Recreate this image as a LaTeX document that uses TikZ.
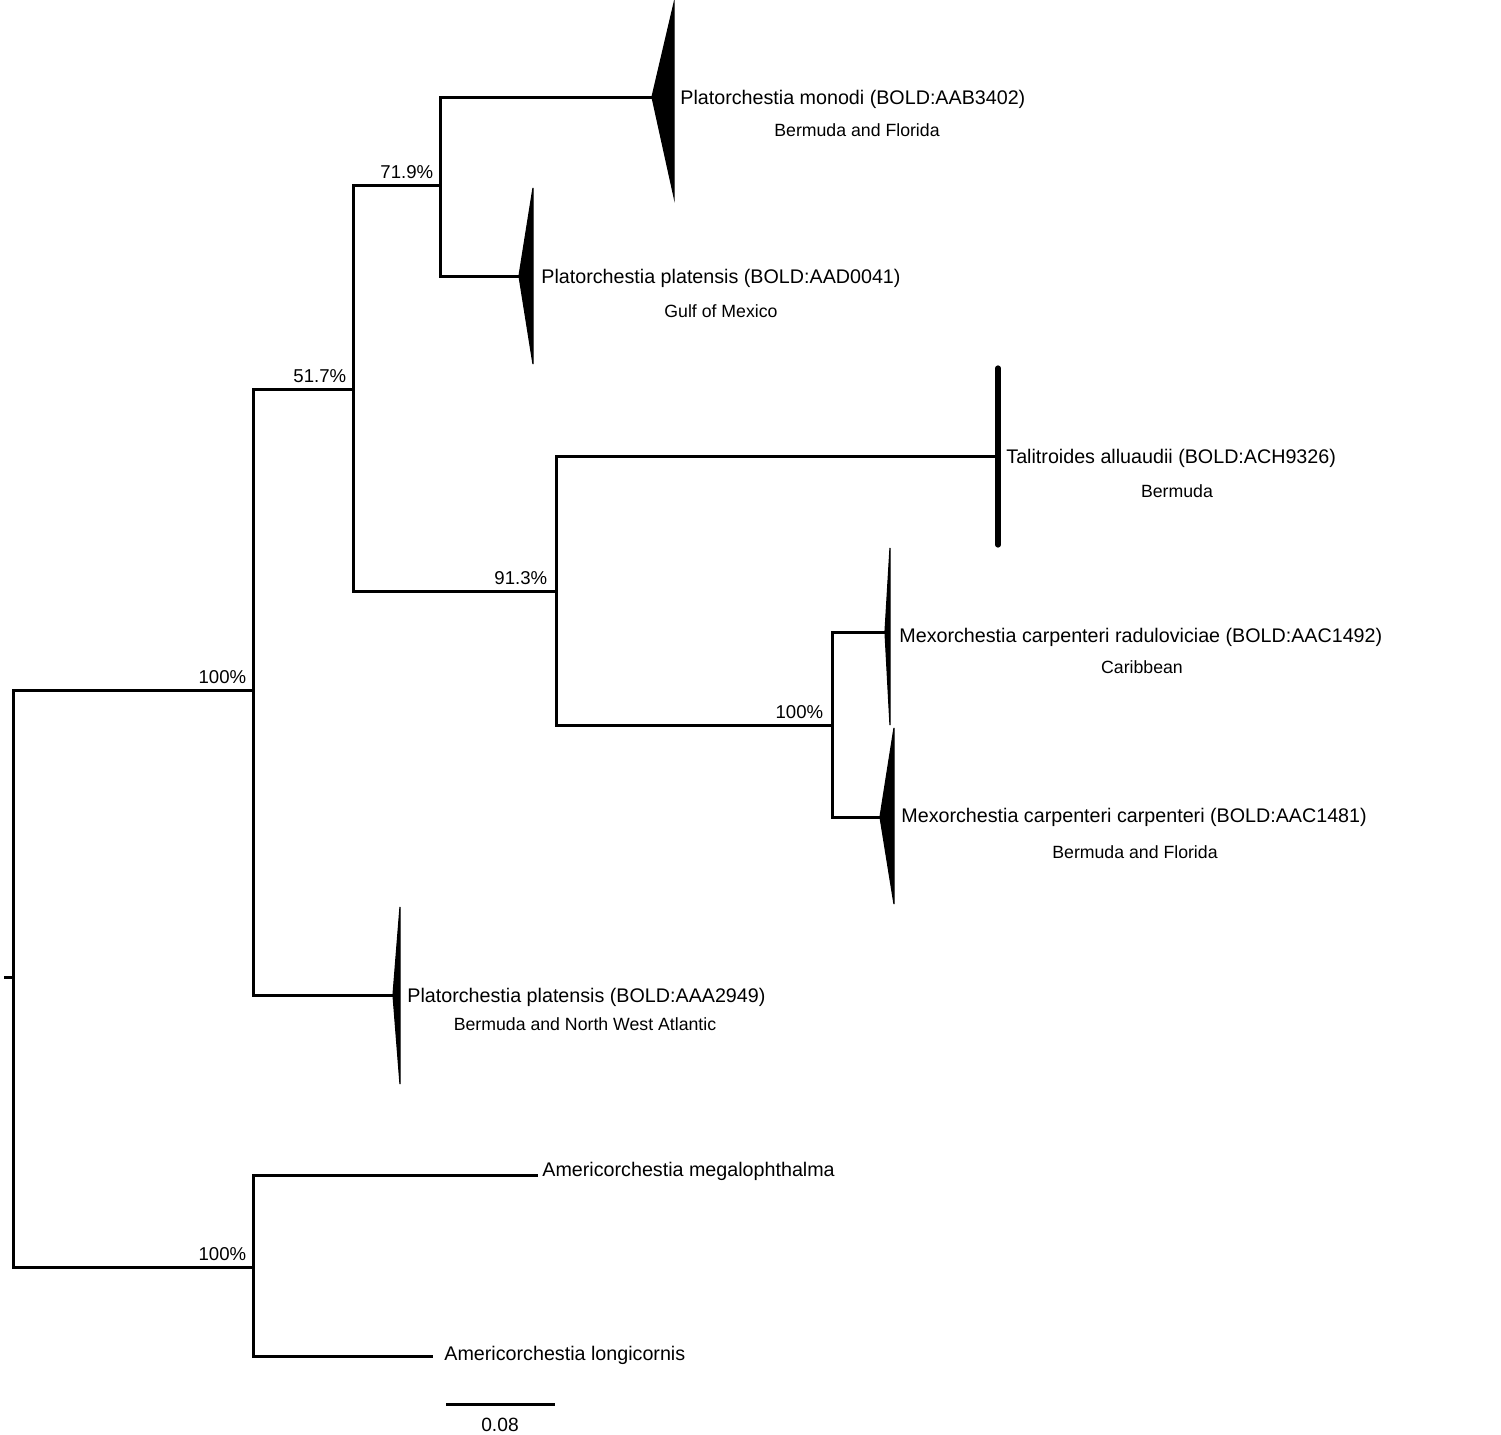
\documentclass[tikz,border=0pt]{standalone}
\usepackage{fontspec}
\setmainfont{Liberation Sans}
\usetikzlibrary{positioning, calc}
\tikzset{
    tree_branch/.style={
        line width=1.5pt,
        line cap=rect
    },
    tree_clade/.style={
        fill=black,
        draw=black,
        line width=0.6pt,
        line join=miter
    },
    tree_bar/.style={
        line width=2.6pt,
        line cap=round
    },
    tree_support/.style={
        anchor=south east,
        inner sep=0pt,
        xshift=-3.2pt,
        yshift=3pt,
        font=\fontsize{9.3}{10}\selectfont
    },
    tree_taxon/.style={
        anchor=west,
        inner sep=0pt,
        font=\fontsize{9.85}{11}\selectfont
    },
    tree_region/.style={
        anchor=center,
        inner sep=0pt,
        font=\fontsize{8.85}{10}\selectfont
    }
}
\newcommand{\collapsedclade}[4]{
    \fill[tree_clade] (#1) -- (#2,#3) -- (#2,#4) -- cycle;
}

\begin{document}
\begin{tikzpicture}[x=0.5pt, y=-0.5pt]
\useasboundingbox (0,0) rectangle (1501,1435);

% --- Internal nodes ---
\coordinate (Root) at (13,977);
\coordinate (RootStub) at (5,977);
\coordinate (Ingroup) at (253,690);
\coordinate (Outgroup) at (253,1267);
\coordinate (Clade_51) at (353,389);
\coordinate (Clade_72) at (440,185);
\coordinate (Clade_91) at (556,591);
\coordinate (Clade_Mex) at (832,725);

% --- Tips ---
\coordinate (Tip_AAB3402) at (652,97);
\coordinate (Tip_AAD0041) at (519,276);
\coordinate (Tip_ACH9326) at (998,456);
\coordinate (Tip_AAC1492) at (885,632);
\coordinate (Tip_AAC1481) at (880,817);
\coordinate (Tip_AAA2949) at (393,995);
\coordinate (Tip_Megalo) at (536,1175);
\coordinate (Tip_Longi) at (431,1356);

% --- Branches ---
\draw[tree_branch] (RootStub) -- (Root);
\draw[tree_branch] (Root) |- (Ingroup);
\draw[tree_branch] (Root) |- (Outgroup);
\draw[tree_branch] (Ingroup) |- (Clade_51);
\draw[tree_branch] (Ingroup) |- (Tip_AAA2949);
\draw[tree_branch] (Clade_51) |- (Clade_72);
\draw[tree_branch] (Clade_51) |- (Clade_91);
\draw[tree_branch] (Clade_72) |- (Tip_AAB3402);
\draw[tree_branch] (Clade_72) |- (Tip_AAD0041);
\draw[tree_branch] (Clade_91) |- (Tip_ACH9326);
\draw[tree_branch] (Clade_91) |- (Clade_Mex);
\draw[tree_branch] (Clade_Mex) |- (Tip_AAC1492);
\draw[tree_branch] (Clade_Mex) |- (Tip_AAC1481);
\draw[tree_branch] (Outgroup) |- (Tip_Megalo);
\draw[tree_branch] (Outgroup) |- (Tip_Longi);

% --- Collapsed clades ---
\collapsedclade{Tip_AAB3402}{674}{3}{197}
\collapsedclade{Tip_AAD0041}{533}{188}{364}
\collapsedclade{Tip_AAC1492}{890}{548}{725}
\collapsedclade{Tip_AAC1481}{894}{728}{904}
\collapsedclade{Tip_AAA2949}{400}{907}{1084}
\coordinate (Bar_top) at (998,368);
\coordinate (Bar_bottom) at (998,545);
\draw[tree_bar] (Bar_top) -- (Bar_bottom);

% --- Support values ---
\node[tree_support] (Sup_Ingroup) at (Ingroup) {100\%};
\node[tree_support] (Sup_51) at (Clade_51) {51.7\%};
\node[tree_support] (Sup_72) at (Clade_72) {71.9\%};
\node[tree_support, xshift=-1pt] (Sup_91) at (Clade_91) {91.3\%};
\node[tree_support, xshift=-1pt] (Sup_Mex) at (Clade_Mex) {100\%};
\node[tree_support] (Sup_Outgroup) at (Outgroup) {100\%};

% --- Taxon labels ---
\node[tree_taxon] (Lab_AAB3402) at (680,99) {Platorchestia monodi (BOLD:AAB3402)};
\node[tree_region] (Reg_AAB3402) at (857,130) {Bermuda and Florida};
\node[tree_taxon] (Lab_AAD0041) at (541,278) {Platorchestia platensis (BOLD:AAD0041)};
\node[tree_region] (Reg_AAD0041) at (721,311) {Gulf of Mexico};
\node[tree_taxon] (Lab_ACH9326) at (1006,458) {Talitroides alluaudii (BOLD:ACH9326)};
\node[tree_region] (Reg_ACH9326) at (1177,491) {Bermuda};
\node[tree_taxon] (Lab_AAC1492) at (899,637) {Mexorchestia carpenteri raduloviciae (BOLD:AAC1492)};
\node[tree_region] (Reg_AAC1492) at (1142,667) {Caribbean};
\node[tree_taxon] (Lab_AAC1481) at (901,817) {Mexorchestia carpenteri carpenteri (BOLD:AAC1481)};
\node[tree_region] (Reg_AAC1481) at (1135,852) {Bermuda and Florida};
\node[tree_taxon] (Lab_AAA2949) at (407,997) {Platorchestia platensis (BOLD:AAA2949)};
\node[tree_region] (Reg_AAA2949) at (585,1024) {Bermuda and North West Atlantic};
\node[tree_taxon] (Lab_Megalo) at (542,1171) {Americorchestia megalophthalma};
\node[tree_taxon] (Lab_Longi) at (444,1355) {Americorchestia longicornis};

% --- Scale bar ---
\coordinate (Scale_left) at (447,1404);
\coordinate (Scale_right) at (553,1404);
\draw[tree_branch] (Scale_left) -- (Scale_right);
\node[tree_region, font=\fontsize{9.6}{10}\selectfont] (Scale_label) at (500,1425) {0.08};

\end{tikzpicture}
\end{document}
